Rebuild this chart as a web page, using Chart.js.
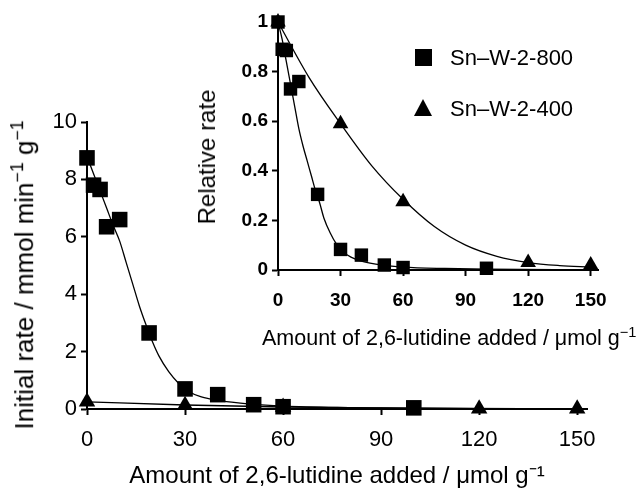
<!DOCTYPE html>
<html><head><meta charset="utf-8">
<script src="https://cdn.jsdelivr.net/npm/chart.js@4"></script>
<style>
html,body{margin:0;padding:0;background:#fff;}
#wrap{position:relative;width:638px;height:497px;overflow:hidden;background:#fff;}
#wrap canvas{position:absolute;left:0;top:0;}
.txt{position:absolute;font-family:"Liberation Sans",Arial,sans-serif;color:#000;line-height:1;white-space:nowrap;}
.rot{transform:translate(-50%,-50%) rotate(-90deg);}
.sp{font-size:0.68em;vertical-align:0.55em;}
.sq{position:absolute;width:17px;height:17px;background:#000;}
.tri{position:absolute;width:0;height:0;border-left:9px solid transparent;border-right:9px solid transparent;border-bottom:17px solid #000;}
</style></head><body>
<div id="wrap">
<canvas id="main" width="638" height="497"></canvas>
<canvas id="inset" width="638" height="497"></canvas>
<div class="txt rot" id="mainYTitle" style="left:23px;top:275px;font-size:26px;"></div>
<div class="txt rot" id="insetYTitle" style="left:207px;top:157px;font-size:24px;"></div>
<div class="txt" id="insetXTitle" style="left:262px;top:325px;font-size:21.5px;"></div>
<div class="sq" style="left:415px;top:49px;"></div>
<div class="txt" id="leg0" style="left:450px;top:47px;font-size:22px;"></div>
<div class="tri" style="left:414px;top:99px;"></div>
<div class="txt" id="leg1" style="left:450px;top:98px;font-size:22px;"></div>
</div>
<script>
// ---- data ----
const seriesNames = ['Sn–W-2-800', 'Sn–W-2-400'];
const x800 = [0, 2, 4, 6, 10, 19, 30, 40, 51, 60, 100];
const rate800 = [8.75, 7.8, 7.65, 6.35, 6.6, 2.65, 0.7, 0.5, 0.15, 0.08, 0.04];
const rel800 = [1.0, 0.89, 0.885, 0.73, 0.76, 0.305, 0.083, 0.06, 0.02, 0.01, 0.007];
const x400 = [0, 30, 60, 120, 150];
const rate400 = [0.25, 0.13, 0.07, 0.01, 0.005];
const rel400 = [1.0, 0.59, 0.275, 0.03, 0.02];
// fitted curves
const fitX800 = [0, 2, 4, 6, 8, 10, 12, 14, 16, 18, 20, 22, 25, 28, 31, 35, 40, 50, 60, 80, 100, 150];
const fitRate800 = [8.8, 8.2, 7.6, 7.0, 6.4, 5.85, 5.1, 4.35, 3.6, 2.95, 2.35, 1.85, 1.3, 0.9, 0.62, 0.42, 0.3, 0.17, 0.1, 0.05, 0.03, 0.01];
const fitRel800 = [1.0, 0.93, 0.84, 0.75, 0.66, 0.57, 0.5, 0.44, 0.38, 0.32, 0.27, 0.21, 0.15, 0.105, 0.075, 0.052, 0.036, 0.02, 0.012, 0.006, 0.003, 0.001];
const fitX400main = [0, 30, 60, 90, 120, 150];
const fitRate400 = [0.25, 0.14, 0.07, 0.035, 0.015, 0.008];
const fitX400 = [0, 15, 30, 45, 60, 75, 90, 105, 120, 135, 150];
const fitRel400 = [1.0, 0.775, 0.59, 0.42, 0.285, 0.175, 0.1, 0.055, 0.03, 0.018, 0.012];
// tick labels
const xTicks = [0, 30, 60, 90, 120, 150];
const mainYTicks = [0, 2, 4, 6, 8, 10];
const insetYTicks = [0, 0.2, 0.4, 0.6, 0.8, 1];
const mainXTitle = 'Amount of 2,6-lutidine added / μmol g⁻¹';
const xTitleHtml = 'Amount of 2,6-lutidine added / μmol g<span class="sp">−1</span>';
const mainYTitleHtml = 'Initial rate / mmol min<span class="sp">−1</span> g<span class="sp">−1</span>';
const insetYTitle = 'Relative rate';

document.getElementById('mainYTitle').innerHTML = mainYTitleHtml;
document.getElementById('insetYTitle').textContent = insetYTitle;
document.getElementById('insetXTitle').innerHTML = xTitleHtml;
document.getElementById('leg0').textContent = seriesNames[0];
document.getElementById('leg1').textContent = seriesNames[1];

const FAM = '"Liberation Sans", Arial, sans-serif';
const pts = (xs, ys) => xs.map((x, i) => ({x: x, y: ys[i]}));

function markers(data, style, r, label) {
  return {label, data, showLine: false, pointStyle: style, pointRadius: r, pointHoverRadius: r,
    backgroundColor: '#000', borderColor: '#000', pointBorderWidth: 0, clip: false};
}
function curve(data) {
  return {data, showLine: true, pointRadius: 0, pointHoverRadius: 0, borderColor: '#000',
    borderWidth: 1.3, cubicInterpolationMode: 'monotone', fill: false, clip: false};
}
function axis(o) {
  return {
    type: 'linear', min: o.min, max: o.max,
    afterBuildTicks: s => { s.ticks = o.ticks.map(v => ({value: v})); },
    afterFit: s => { if (o.w !== undefined) s.width = o.w; if (o.h !== undefined) s.height = o.h; },
    grid: {display: true, drawOnChartArea: false, drawTicks: true, tickLength: 6, tickWidth: 2, tickColor: '#000'},
    border: {display: true, color: '#000', width: 2},
    ticks: {color: '#000', font: {family: FAM, size: o.tickSize, weight: o.bold ? 'bold' : 'normal'},
      padding: o.tickPad, maxRotation: 0, autoSkip: false,
      callback: v => String(Math.round(v * 10) / 10)},
    title: o.title ? {display: true, text: o.title, color: '#000', font: {family: FAM, size: o.titleSize},
      padding: o.titlePad} : {display: false}
  };
}
const common = {
  responsive: false, animation: false, devicePixelRatio: 1,
  plugins: {legend: {display: false}, tooltip: {enabled: false}}
};

new Chart(document.getElementById('main'), {
  type: 'scatter',
  data: {datasets: [
    markers(pts(x800, rate800), 'rect', 11, seriesNames[0]),
    markers(pts(x400, rate400), 'triangle', 9.5, seriesNames[1]),
    curve(pts(fitX800, fitRate800)),
    curve(pts(fitX400main, fitRate400))
  ]},
  options: Object.assign({}, common, {
    layout: {padding: {left: 0, top: 122, right: 51, bottom: 0}},
    scales: {
      x: axis({min: 0, max: 153, ticks: xTicks, h: 88, tickSize: 22, tickPad: 12, title: mainXTitle, titleSize: 24, titlePad: {top: 0, bottom: 6}}),
      y: axis({min: 0, max: 10, ticks: mainYTicks, w: 87, tickSize: 22, tickPad: 4})
    }
  })
});

new Chart(document.getElementById('inset'), {
  type: 'scatter',
  data: {datasets: [
    markers(pts(x800, rel800), 'rect', 9.5, seriesNames[0]),
    markers(pts(x400, rel400), 'triangle', 9, seriesNames[1]),
    curve(pts(fitX800, fitRel800)),
    curve(pts(fitX400, fitRel400))
  ]},
  options: Object.assign({}, common, {
    layout: {padding: {left: 180, top: 22, right: 40, bottom: 140}},
    scales: {
      x: axis({min: 0, max: 153.5, ticks: xTicks, h: 87, tickSize: 19, bold: true, tickPad: 13}),
      y: axis({min: 0, max: 1, ticks: insetYTicks, w: 98, tickSize: 19, bold: true, tickPad: 4})
    }
  })
});
</script>
</body></html>
